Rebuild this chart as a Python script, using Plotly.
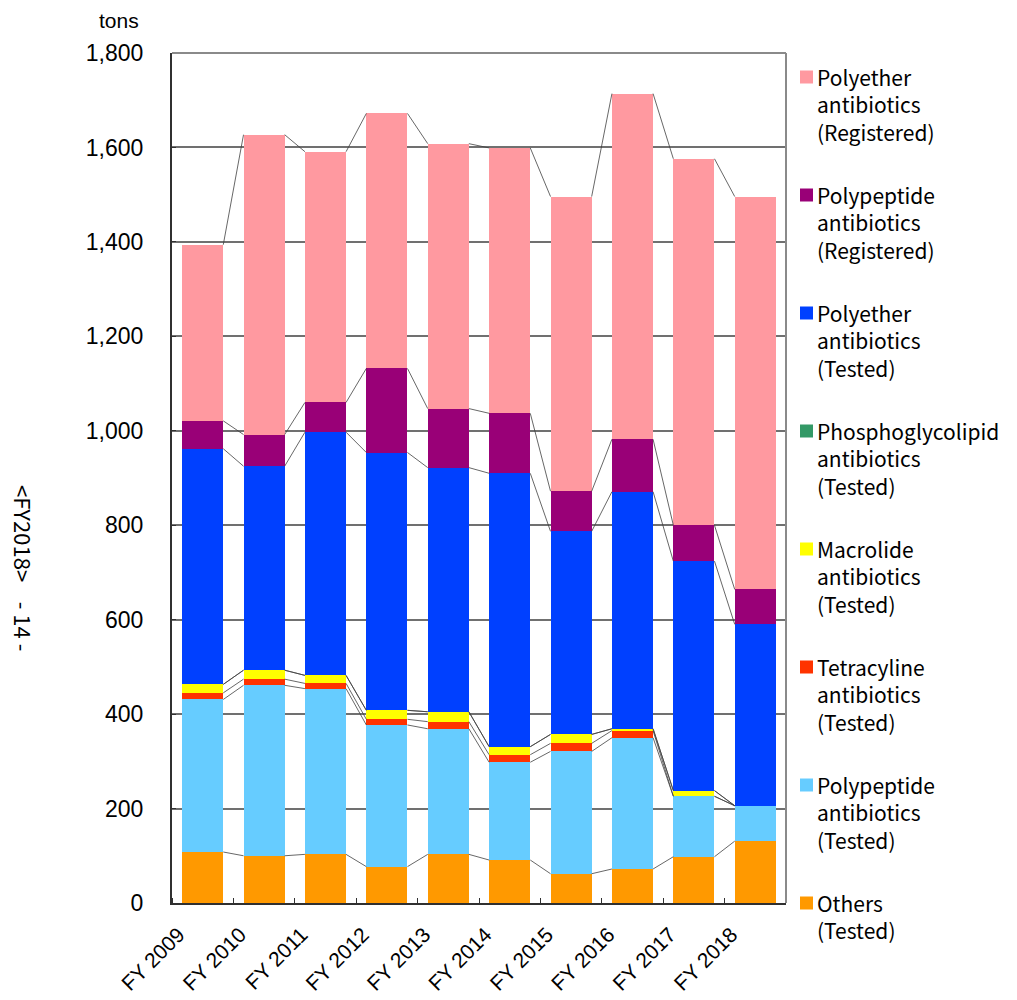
import numpy as np
import plotly.graph_objects as go

years = ["FY 2009", "FY 2010", "FY 2011", "FY 2012", "FY 2013",
         "FY 2014", "FY 2015", "FY 2016", "FY 2017", "FY 2018"]

# tons per fiscal year, stacked bottom -> top
others_tested = [108, 100, 103, 77, 103, 91, 62, 72, 98, 131]
polypeptide_tested = [323, 361, 351, 300, 266, 207, 259, 278, 128, 75]
tetracyline_tested = [14, 13, 11, 12, 15, 16, 17, 15, 0, 0]
macrolide_tested = [18, 19, 17, 19, 21, 17, 19, 4, 12, 0]
phosphoglycolipid_tested = [0, 0, 0, 0, 0, 0, 0, 0, 0, 0]
polyether_tested = [499, 432, 515, 546, 517, 579, 430, 502, 486, 384]
polypeptide_registered = [59, 67, 63, 178, 125, 127, 85, 111, 76, 74]
polyether_registered = [373, 635, 531, 540, 561, 562, 624, 732, 776, 832]

series = [
    (["Others", "(Tested)"], others_tested, "#FF9900"),
    (["Polypeptide", "antibiotics", "(Tested)"], polypeptide_tested, "#66CCFF"),
    (["Tetracyline", "antibiotics", "(Tested)"], tetracyline_tested, "#FF3300"),
    (["Macrolide", "antibiotics", "(Tested)"], macrolide_tested, "#FFFF00"),
    (["Phosphoglycolipid", "antibiotics", "(Tested)"], phosphoglycolipid_tested, "#339966"),
    (["Polyether", "antibiotics", "(Tested)"], polyether_tested, "#0040FF"),
    (["Polypeptide", "antibiotics", "(Registered)"], polypeptide_registered, "#990077"),
    (["Polyether", "antibiotics", "(Registered)"], polyether_registered, "#FF99A0"),
]

W, H = 1017, 1000
ML, MR, MT, MB = 172, 231, 53, 97
PW, PH = W - ML - MR, H - MT - MB


def px_x(px):
    return (px - ML) / PW


def px_y(py):
    return (H - MB - py) / PH


x = np.arange(len(years))
bar_w = 0.67
half = bar_w / 2

fig = go.Figure()

# series lines joining the top of each stack segment between neighbouring bars
cum = np.zeros(len(years))
for lines, vals, color in series:
    cum = cum + np.array(vals, dtype=float)
    lx, ly = [], []
    for i in range(len(years) - 1):
        lx += [x[i] + half, x[i + 1] - half, None]
        ly += [cum[i], cum[i + 1], None]
    fig.add_trace(go.Scatter(x=lx, y=ly, mode="lines",
                             line=dict(color="#404040", width=0.8),
                             showlegend=False, hoverinfo="skip"))

for lines, vals, color in series:
    fig.add_trace(go.Bar(x=x, y=vals, name=" ".join(lines), width=bar_w,
                         marker=dict(color=color, line=dict(width=0)),
                         showlegend=False))

fig.update_layout(
    width=W, height=H,
    barmode="stack",
    plot_bgcolor="white", paper_bgcolor="white",
    margin=dict(l=ML, r=MR, t=MT, b=MB, autoexpand=False),
    font=dict(family="Liberation Sans, Arial, sans-serif", color="black"),
    showlegend=False,
)

fig.update_xaxes(
    range=[-0.5, len(years) - 0.5],
    tickmode="array", tickvals=x, ticktext=years,
    tickangle=-45, ticks="",
    tickfont=dict(size=21),
    ticklabelshift=-24, ticklabelstandoff=9,
    automargin=False,
    showgrid=False, zeroline=False,
    showline=True, linecolor="#303030", linewidth=2,
    minor=dict(tick0=0.5, dtick=1, ticks="inside", ticklen=5,
               tickcolor="#303030", showgrid=False),
)

fig.update_yaxes(
    range=[0, 1800], tickmode="linear", tick0=0, dtick=200,
    tickformat=",", tickfont=dict(size=23),
    ticks="inside", ticklen=4, tickcolor="#303030",
    ticklabelstandoff=22, automargin=False,
    showgrid=True, gridcolor="#707070", gridwidth=1.5,
    zeroline=False,
    showline=True, linecolor="#303030", linewidth=2,
)

# outer frame of the plotting area (top and right edges in grey)
fig.add_shape(type="line", xref="paper", yref="paper", x0=0, x1=1, y0=1, y1=1,
              line=dict(color="#8a8a8a", width=2))
fig.add_shape(type="line", xref="paper", yref="paper", x0=1, x1=1, y0=0, y1=1,
              line=dict(color="#8a8a8a", width=2))

# legend: top entry is the top stack segment
legend_size = 21
line_h = legend_size * 1.3
legend_font = dict(family="Noto Sans CJK JP, Noto Sans, sans-serif",
                   size=legend_size, color="black")
entry_top, entry_step = 77, 118
for j, (lines, vals, color) in enumerate(reversed(series)):
    cy = entry_top + j * entry_step
    fig.add_shape(type="rect", xref="paper", yref="paper",
                  x0=px_x(800), x1=px_x(813), y0=px_y(cy - 6.5), y1=px_y(cy + 6.5),
                  fillcolor=color, line=dict(width=0))
    block_mid = cy + (len(lines) - 1) * line_h / 2
    fig.add_annotation(text="<br>".join(lines), xref="paper", yref="paper",
                       x=px_x(815), y=px_y(block_mid),
                       xanchor="left", yanchor="middle", align="left",
                       showarrow=False, font=legend_font)

fig.add_annotation(text="tons", xref="paper", yref="paper",
                   x=px_x(141), y=px_y(20), xanchor="right", yanchor="middle",
                   showarrow=False, font=dict(size=21))
fig.add_annotation(text="&lt;FY2018&gt;    - 14 -", xref="paper", yref="paper",
                   x=px_x(24), y=px_y(568), xanchor="center", yanchor="middle",
                   textangle=90, showarrow=False,
                   font=dict(family="Noto Sans CJK JP", size=22))

fig.write_html("out.html")
